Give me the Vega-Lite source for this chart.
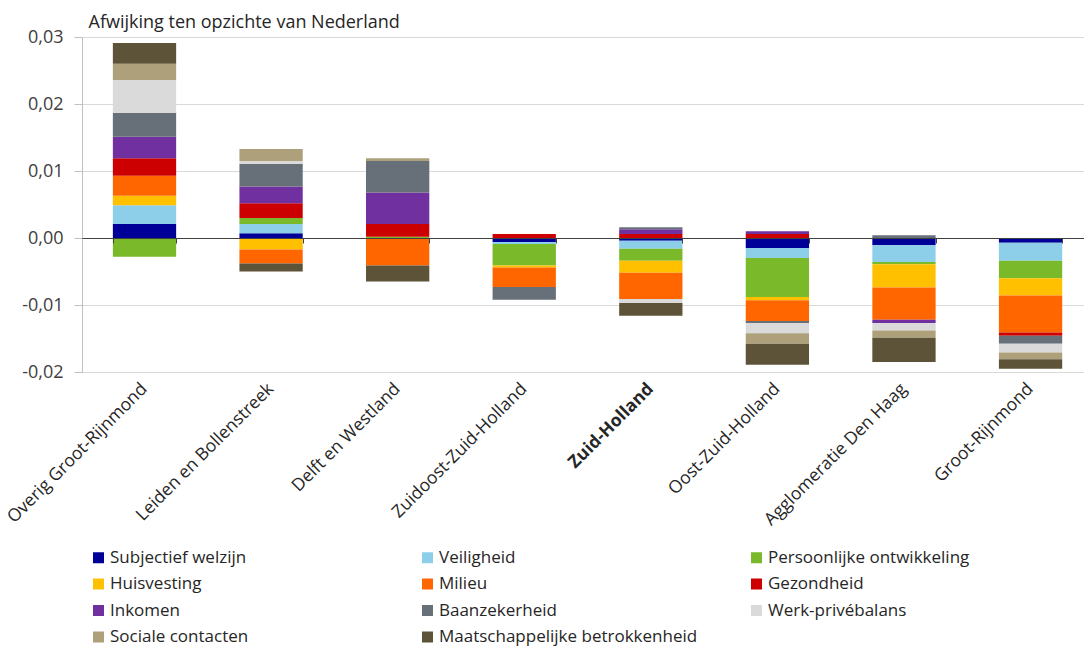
{
  "$schema": "https://vega.github.io/schema/vega-lite/v6.json",
  "autosize": {"type": "none"},
  "padding": {"left": 82, "top": 37, "right": 0, "bottom": 278},
  "width": 1002,
  "height": 335,
  "config": {
    "font": "Open Sans",
    "view": {"stroke": null},
    "locale": {"number": {"decimal": ",", "thousands": ".", "grouping": [3], "currency": ["€", ""], "minus": "-"}}
  },
  "data": {"values": [
    {"regio": "Overig Groot-Rijnmond", "indicator": "Subjectief welzijn", "waarde": 0.0021},
    {"regio": "Overig Groot-Rijnmond", "indicator": "Veiligheid", "waarde": 0.0028},
    {"regio": "Overig Groot-Rijnmond", "indicator": "Persoonlijke ontwikkeling", "waarde": -0.0028},
    {"regio": "Overig Groot-Rijnmond", "indicator": "Huisvesting", "waarde": 0.0014},
    {"regio": "Overig Groot-Rijnmond", "indicator": "Milieu", "waarde": 0.0030},
    {"regio": "Overig Groot-Rijnmond", "indicator": "Gezondheid", "waarde": 0.0026},
    {"regio": "Overig Groot-Rijnmond", "indicator": "Inkomen", "waarde": 0.0032},
    {"regio": "Overig Groot-Rijnmond", "indicator": "Baanzekerheid", "waarde": 0.0036},
    {"regio": "Overig Groot-Rijnmond", "indicator": "Werk-privébalans", "waarde": 0.0049},
    {"regio": "Overig Groot-Rijnmond", "indicator": "Sociale contacten", "waarde": 0.0024},
    {"regio": "Overig Groot-Rijnmond", "indicator": "Maatschappelijke betrokkenheid", "waarde": 0.0031},

    {"regio": "Leiden en Bollenstreek", "indicator": "Subjectief welzijn", "waarde": 0.0007},
    {"regio": "Leiden en Bollenstreek", "indicator": "Veiligheid", "waarde": 0.0014},
    {"regio": "Leiden en Bollenstreek", "indicator": "Persoonlijke ontwikkeling", "waarde": 0.0009},
    {"regio": "Leiden en Bollenstreek", "indicator": "Huisvesting", "waarde": -0.0017},
    {"regio": "Leiden en Bollenstreek", "indicator": "Milieu", "waarde": -0.0021},
    {"regio": "Leiden en Bollenstreek", "indicator": "Gezondheid", "waarde": 0.0022},
    {"regio": "Leiden en Bollenstreek", "indicator": "Inkomen", "waarde": 0.0025},
    {"regio": "Leiden en Bollenstreek", "indicator": "Baanzekerheid", "waarde": 0.0034},
    {"regio": "Leiden en Bollenstreek", "indicator": "Werk-privébalans", "waarde": 0.0004},
    {"regio": "Leiden en Bollenstreek", "indicator": "Sociale contacten", "waarde": 0.0018},
    {"regio": "Leiden en Bollenstreek", "indicator": "Maatschappelijke betrokkenheid", "waarde": -0.0012},

    {"regio": "Delft en Westland", "indicator": "Persoonlijke ontwikkeling", "waarde": 0.0002},
    {"regio": "Delft en Westland", "indicator": "Milieu", "waarde": -0.0041},
    {"regio": "Delft en Westland", "indicator": "Gezondheid", "waarde": 0.0019},
    {"regio": "Delft en Westland", "indicator": "Inkomen", "waarde": 0.0047},
    {"regio": "Delft en Westland", "indicator": "Baanzekerheid", "waarde": 0.0047},
    {"regio": "Delft en Westland", "indicator": "Sociale contacten", "waarde": 0.0004},
    {"regio": "Delft en Westland", "indicator": "Maatschappelijke betrokkenheid", "waarde": -0.0024},

    {"regio": "Zuidoost-Zuid-Holland", "indicator": "Subjectief welzijn", "waarde": -0.0006},
    {"regio": "Zuidoost-Zuid-Holland", "indicator": "Veiligheid", "waarde": -0.0003},
    {"regio": "Zuidoost-Zuid-Holland", "indicator": "Persoonlijke ontwikkeling", "waarde": -0.0032},
    {"regio": "Zuidoost-Zuid-Holland", "indicator": "Huisvesting", "waarde": -0.0003},
    {"regio": "Zuidoost-Zuid-Holland", "indicator": "Milieu", "waarde": -0.0029},
    {"regio": "Zuidoost-Zuid-Holland", "indicator": "Gezondheid", "waarde": 0.0006},
    {"regio": "Zuidoost-Zuid-Holland", "indicator": "Baanzekerheid", "waarde": -0.0019},

    {"regio": "Zuid-Holland", "indicator": "Subjectief welzijn", "waarde": -0.0004},
    {"regio": "Zuid-Holland", "indicator": "Veiligheid", "waarde": -0.0012},
    {"regio": "Zuid-Holland", "indicator": "Persoonlijke ontwikkeling", "waarde": -0.0018},
    {"regio": "Zuid-Holland", "indicator": "Huisvesting", "waarde": -0.0018},
    {"regio": "Zuid-Holland", "indicator": "Milieu", "waarde": -0.0039},
    {"regio": "Zuid-Holland", "indicator": "Gezondheid", "waarde": 0.0006},
    {"regio": "Zuid-Holland", "indicator": "Inkomen", "waarde": 0.0007},
    {"regio": "Zuid-Holland", "indicator": "Baanzekerheid", "waarde": 0.0003},
    {"regio": "Zuid-Holland", "indicator": "Werk-privébalans", "waarde": -0.0006},
    {"regio": "Zuid-Holland", "indicator": "Maatschappelijke betrokkenheid", "waarde": -0.0019},

    {"regio": "Oost-Zuid-Holland", "indicator": "Subjectief welzijn", "waarde": -0.0015},
    {"regio": "Oost-Zuid-Holland", "indicator": "Veiligheid", "waarde": -0.0015},
    {"regio": "Oost-Zuid-Holland", "indicator": "Persoonlijke ontwikkeling", "waarde": -0.0058},
    {"regio": "Oost-Zuid-Holland", "indicator": "Huisvesting", "waarde": -0.0005},
    {"regio": "Oost-Zuid-Holland", "indicator": "Milieu", "waarde": -0.0031},
    {"regio": "Oost-Zuid-Holland", "indicator": "Gezondheid", "waarde": 0.0006},
    {"regio": "Oost-Zuid-Holland", "indicator": "Inkomen", "waarde": 0.0004},
    {"regio": "Oost-Zuid-Holland", "indicator": "Baanzekerheid", "waarde": -0.0003},
    {"regio": "Oost-Zuid-Holland", "indicator": "Werk-privébalans", "waarde": -0.0015},
    {"regio": "Oost-Zuid-Holland", "indicator": "Sociale contacten", "waarde": -0.0016},
    {"regio": "Oost-Zuid-Holland", "indicator": "Maatschappelijke betrokkenheid", "waarde": -0.0031},

    {"regio": "Agglomeratie Den Haag", "indicator": "Subjectief welzijn", "waarde": -0.0011},
    {"regio": "Agglomeratie Den Haag", "indicator": "Veiligheid", "waarde": -0.0025},
    {"regio": "Agglomeratie Den Haag", "indicator": "Persoonlijke ontwikkeling", "waarde": -0.0003},
    {"regio": "Agglomeratie Den Haag", "indicator": "Huisvesting", "waarde": -0.0035},
    {"regio": "Agglomeratie Den Haag", "indicator": "Milieu", "waarde": -0.0048},
    {"regio": "Agglomeratie Den Haag", "indicator": "Inkomen", "waarde": -0.0005},
    {"regio": "Agglomeratie Den Haag", "indicator": "Baanzekerheid", "waarde": 0.0004},
    {"regio": "Agglomeratie Den Haag", "indicator": "Werk-privébalans", "waarde": -0.0011},
    {"regio": "Agglomeratie Den Haag", "indicator": "Sociale contacten", "waarde": -0.0011},
    {"regio": "Agglomeratie Den Haag", "indicator": "Maatschappelijke betrokkenheid", "waarde": -0.0036},

    {"regio": "Groot-Rijnmond", "indicator": "Subjectief welzijn", "waarde": -0.0007},
    {"regio": "Groot-Rijnmond", "indicator": "Veiligheid", "waarde": -0.0027},
    {"regio": "Groot-Rijnmond", "indicator": "Persoonlijke ontwikkeling", "waarde": -0.0026},
    {"regio": "Groot-Rijnmond", "indicator": "Huisvesting", "waarde": -0.0026},
    {"regio": "Groot-Rijnmond", "indicator": "Milieu", "waarde": -0.0055},
    {"regio": "Groot-Rijnmond", "indicator": "Gezondheid", "waarde": -0.0005},
    {"regio": "Groot-Rijnmond", "indicator": "Baanzekerheid", "waarde": -0.0012},
    {"regio": "Groot-Rijnmond", "indicator": "Werk-privébalans", "waarde": -0.0013},
    {"regio": "Groot-Rijnmond", "indicator": "Sociale contacten", "waarde": -0.0010},
    {"regio": "Groot-Rijnmond", "indicator": "Maatschappelijke betrokkenheid", "waarde": -0.0014}
  ]},
  "transform": [
    {"calculate": "indexof(['Subjectief welzijn', 'Veiligheid', 'Persoonlijke ontwikkeling', 'Huisvesting', 'Milieu', 'Gezondheid', 'Inkomen', 'Baanzekerheid', 'Werk-privébalans', 'Sociale contacten', 'Maatschappelijke betrokkenheid'], datum.indicator)", "as": "volgorde"}
  ],
  "layer": [
    {
      "mark": {"type": "bar"},
      "encoding": {
        "x": {
          "field": "regio", "type": "nominal",
          "sort": ["Overig Groot-Rijnmond", "Leiden en Bollenstreek", "Delft en Westland", "Zuidoost-Zuid-Holland", "Zuid-Holland", "Oost-Zuid-Holland", "Agglomeratie Den Haag", "Groot-Rijnmond"],
          "scale": {"paddingInner": 0.5, "paddingOuter": 0.208, "align": 0.586},
          "axis": {
            "orient": "bottom",
            "title": null, "domain": false, "ticks": false,
            "labelAngle": -45, "labelAlign": "right", "labelBaseline": "middle",
            "labelPadding": 14, "labelFontSize": 17.5, "labelColor": "#262626",
            "labelFontWeight": {"condition": {"test": "datum.value === 'Zuid-Holland'", "value": "bold"}, "value": "normal"},
            "labelLimit": 300
          }
        },
        "y": {
          "field": "waarde", "type": "quantitative", "stack": "zero",
          "scale": {"domain": [-0.02, 0.03], "nice": false},
          "axis": {
            "values": [-0.02, -0.01, 0, 0.01, 0.02, 0.03],
            "format": ".2f",
            "title": "Afwijking ten opzichte van Nederland",
            "titleAngle": 0, "titleAlign": "left", "titleBaseline": "alphabetic",
            "titleX": 6, "titleY": -10, "titleFontSize": 18, "titleFontWeight": "normal", "titleColor": "#262626",
            "labelFontSize": 18, "labelColor": "#404040", "labelPadding": 11,
            "domain": true, "domainColor": "#BFBFBF",
            "ticks": true, "tickColor": "#BFBFBF", "tickSize": 8,
            "grid": true, "gridColor": "#D9D9D9"
          }
        },
        "order": {"field": "volgorde", "type": "quantitative"},
        "color": {
          "field": "indicator", "type": "nominal",
          "sort": ["Subjectief welzijn", "Veiligheid", "Persoonlijke ontwikkeling", "Huisvesting", "Milieu", "Gezondheid", "Inkomen", "Baanzekerheid", "Werk-privébalans", "Sociale contacten", "Maatschappelijke betrokkenheid"],
          "scale": {
            "domain": ["Subjectief welzijn", "Veiligheid", "Persoonlijke ontwikkeling", "Huisvesting", "Milieu", "Gezondheid", "Inkomen", "Baanzekerheid", "Werk-privébalans", "Sociale contacten", "Maatschappelijke betrokkenheid"],
            "range": ["#000099", "#8DCFE8", "#7AB929", "#FFC000", "#FF6600", "#CC0000", "#7030A0", "#677079", "#DADADA", "#ADA07A", "#5C5338"]
          },
          "legend": {
            "title": null, "orient": "none", "legendX": 8, "legendY": 512,
            "direction": "horizontal", "columns": 3, "gridAlign": "all",
            "columnPadding": 50, "rowPadding": 8.5,
            "symbolType": "square", "symbolSize": 121, "symbolStrokeWidth": 0,
            "labelFontSize": 17, "labelColor": "#262626", "labelOffset": 3, "labelLimit": 400
          }
        }
      }
    },
    {
      "mark": {"type": "rule", "color": "#404040", "strokeWidth": 0},
      "encoding": {
        "x": {
          "field": "regio", "type": "nominal",
          "sort": ["Overig Groot-Rijnmond", "Leiden en Bollenstreek", "Delft en Westland", "Zuidoost-Zuid-Holland", "Zuid-Holland", "Oost-Zuid-Holland", "Agglomeratie Den Haag", "Groot-Rijnmond"],
          "axis": {
            "orient": "top", "offset": -201, "title": null, "labels": false,
            "domain": true, "domainColor": "#404040", "domainWidth": 1,
            "ticks": true, "tickBand": "extent", "tickColor": "#404040", "tickSize": -5,
            "grid": false, "zindex": 2
          }
        },
        "y": {"datum": 0}
      }
    }
  ]
}
